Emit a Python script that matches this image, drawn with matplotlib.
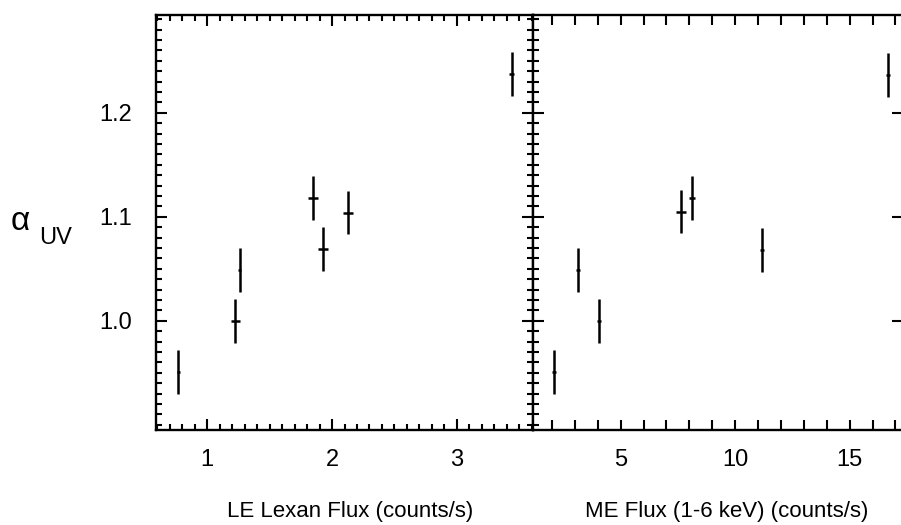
import numpy as np
import matplotlib
matplotlib.use("Agg")
import matplotlib.pyplot as plt
from matplotlib.ticker import MultipleLocator, FixedLocator, FuncFormatter

plt.rcParams['font.family'] = ['Liberation Sans', 'DejaVu Sans']

# alpha_UV values (same for both panels)
alpha_le = [0.951, 1.000, 1.049, 1.118, 1.069, 1.104, 1.237]
alpha_me = [0.951, 1.049, 1.000, 1.105, 1.118, 1.068, 1.236]
alpha_err = [0.021, 0.021, 0.021, 0.021, 0.021, 0.021, 0.021]

# LE Lexan flux (counts/s)
le_flux = [0.77, 1.225, 1.26, 1.845, 1.925, 2.13, 3.44]
le_err = [0.01, 0.035, 0.01, 0.04, 0.04, 0.04, 0.02]

# ME flux 1-6 keV (counts/s)
me_flux = [2.09, 3.14, 4.05, 7.63, 8.11, 11.17, 16.67]
me_err = [0.07, 0.1, 0.09, 0.22, 0.13, 0.1, 0.09]

y_ticks = [1.0, 1.1, 1.2]

fig = plt.figure(figsize=(9.01, 5.25), dpi=100)
ax1 = fig.add_axes([156/901, 95/525, 377/901, 415/525])
ax2 = fig.add_axes([533/901, 95/525, 370/901, 415/525])

for ax in (ax1, ax2):
    for s in ax.spines.values():
        s.set_linewidth(1.7)
    ax.set_ylim(0.895, 1.294)
    ax.yaxis.set_major_locator(FixedLocator(y_ticks))
    ax.yaxis.set_minor_locator(MultipleLocator(0.01))
    ax.tick_params(which='both', direction='in', top=True, right=True,
                   width=1.5, labelsize=17, color='black')
    ax.tick_params(which='major', length=8)
    ax.tick_params(which='minor', length=4.5)
    ax.tick_params(axis='x', pad=14)
    ax.tick_params(axis='y', pad=17)

ax1.errorbar(le_flux, alpha_le, yerr=alpha_err, xerr=le_err, fmt='none',
             ecolor='black', elinewidth=1.8, capsize=0)
ax1.set_xlim(0.59, 3.61)
ax1.xaxis.set_major_locator(MultipleLocator(1))
ax1.xaxis.set_minor_locator(MultipleLocator(0.1))
ax1.yaxis.set_major_formatter(FuncFormatter(lambda v, p: f"{v:.1f}"))
ax1.set_xlabel("LE Lexan Flux (counts/s)", fontsize=16)
ax1.xaxis.set_label_coords(0.515, -0.172)

ax2.errorbar(me_flux, alpha_me, yerr=alpha_err, xerr=me_err, fmt='none',
             ecolor='black', elinewidth=1.8, capsize=0)
ax2.set_xlim(1.17, 17.33)
ax2.xaxis.set_major_locator(MultipleLocator(1))
ax2.xaxis.set_minor_locator(FixedLocator([]))
ax2.xaxis.set_major_formatter(FuncFormatter(lambda v, p: f"{v:.0f}" if round(v) % 5 == 0 else ""))
ax2.tick_params(axis='x', which='major', length=7)
ax2.tick_params(axis='y', labelleft=False)
ax2.tick_params(axis='y', which='minor', right=False)
ax2.set_xlabel("ME Flux (1-6 keV) (counts/s)", fontsize=16)
ax2.xaxis.set_label_coords(0.524, -0.172)

# y-axis label: alpha with subscript UV
fig.text(11/901, 1 - 221/525, "α", fontsize=24, ha='left', va='center')
fig.text(39/901, 1 - 238/525, "UV", fontsize=17, ha='left', va='center')

fig.savefig("out.png", dpi=100)
